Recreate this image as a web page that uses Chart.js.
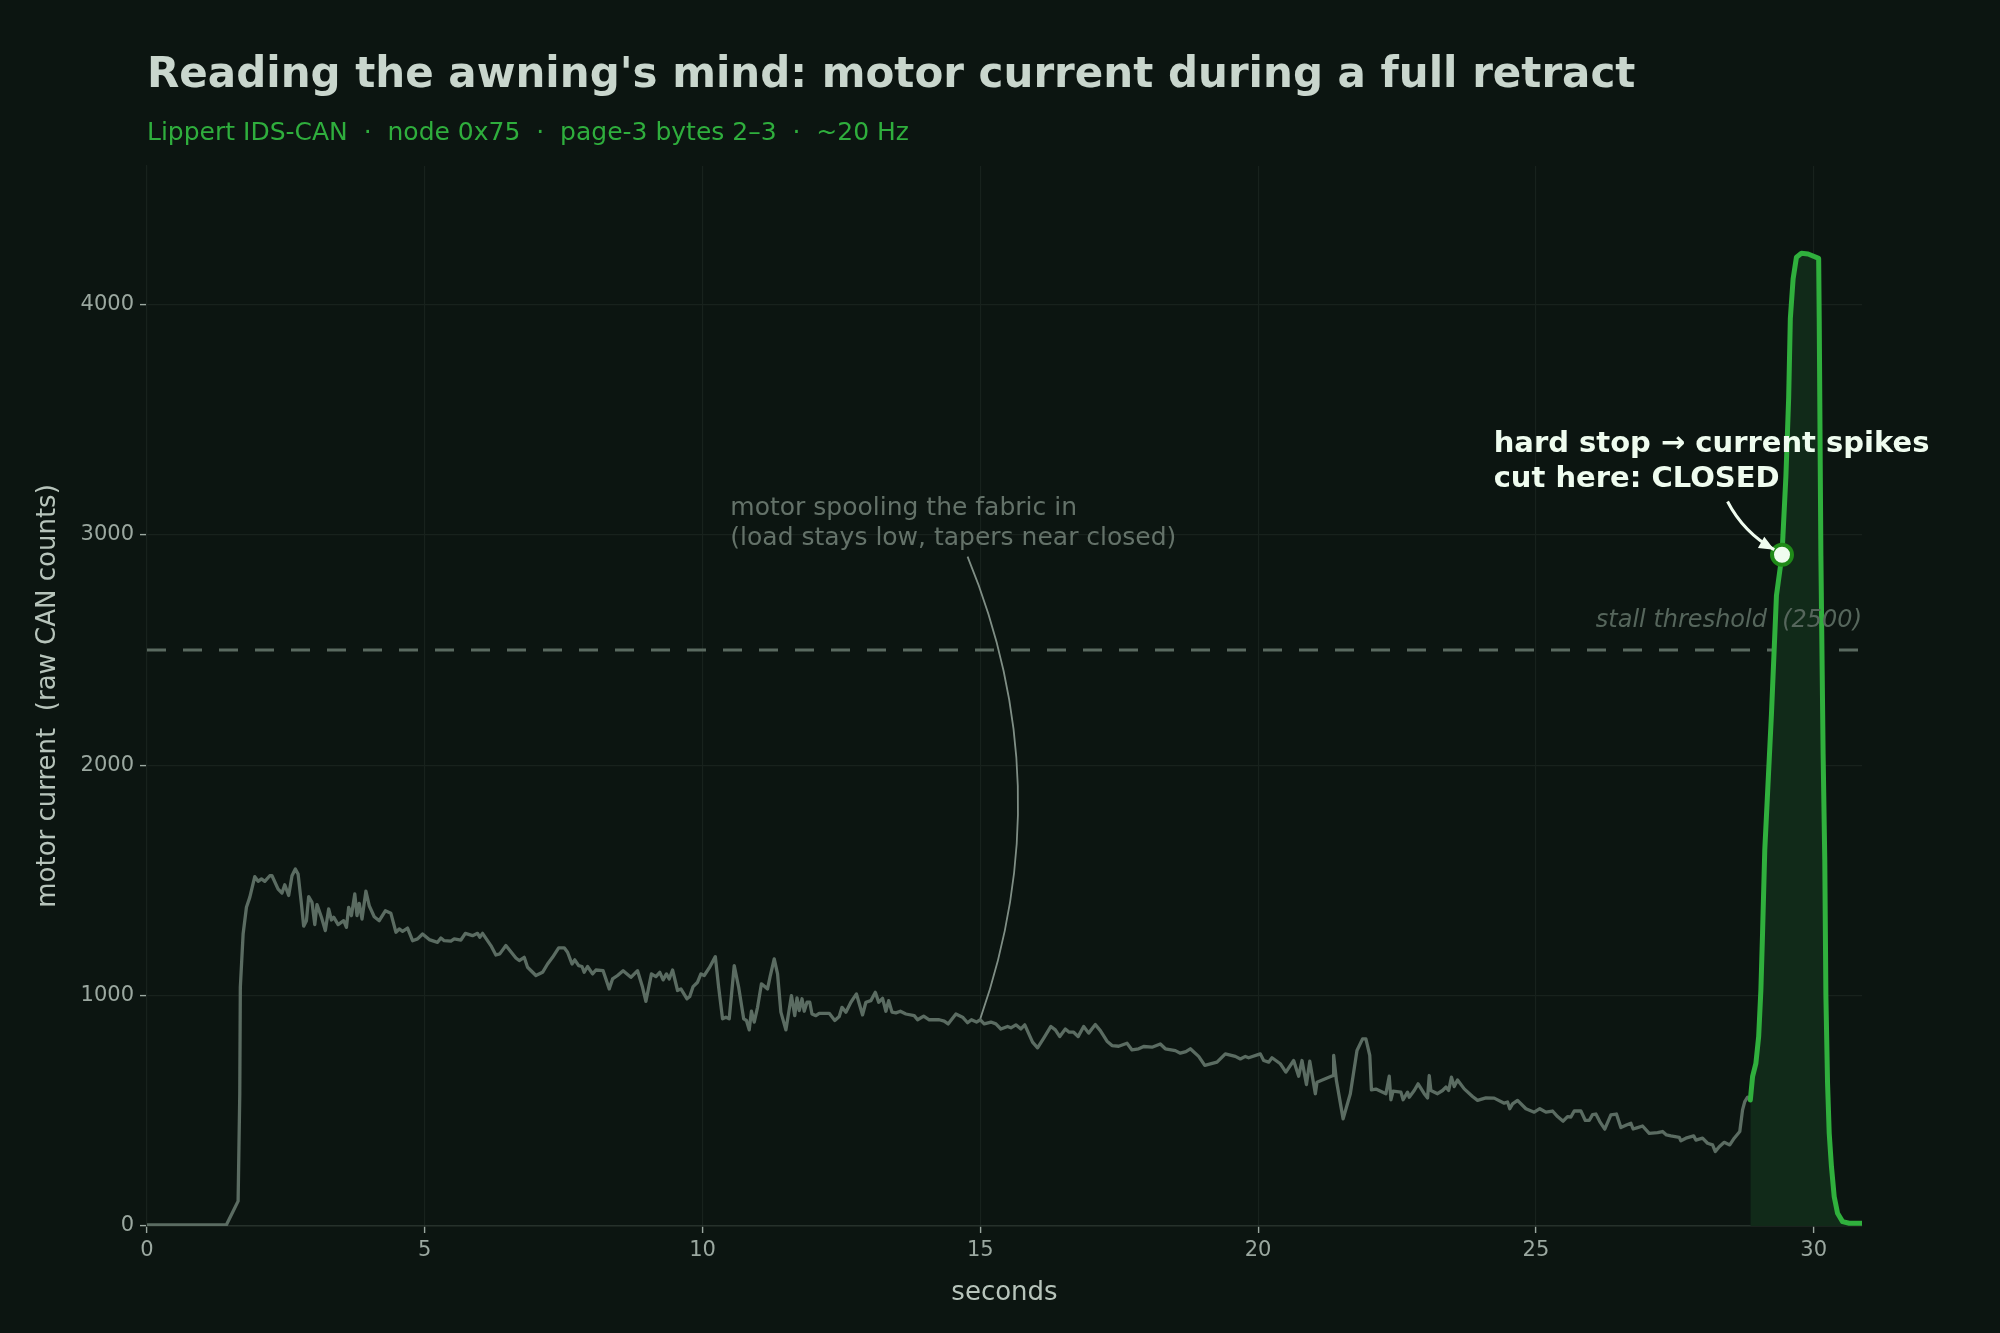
<!DOCTYPE html>
<html>
<head>
<meta charset="utf-8">
<script src="https://cdn.jsdelivr.net/npm/chart.js@4.4.1/dist/chart.umd.min.js"></script>
<style>
  html, body { margin: 0; padding: 0; background: #0c1511; }
  #wrap { width: 2000px; height: 1333px; }
</style>
</head>
<body>
<div id="wrap"><canvas id="retractChart" width="2000" height="1333"></canvas></div>
<script>
// --- datos ---
const titleText = "Reading the awning's mind: motor current during a full retract";
const subtitleText = 'Lippert IDS-CAN  \u00b7  node 0x75  \u00b7  page-3 bytes 2\u20133  \u00b7  ~20 Hz';

const xTicks = [0, 5, 10, 15, 20, 25, 30];
const yTicks = [0, 1000, 2000, 3000, 4000];

// motor enrollando la lona (gris)
const grayT = [0, 1.28, 1.43, 1.64, 1.67, 1.68, 1.73, 1.79, 1.85, 1.94, 2.00, 2.06, 2.12, 2.21, 2.25, 2.36, 2.43, 2.48, 2.55, 2.61,
  2.67, 2.72, 2.78, 2.82, 2.87, 2.91, 2.97, 3.02, 3.06, 3.14, 3.21, 3.27, 3.32, 3.36, 3.44, 3.54, 3.59, 3.63, 3.68, 3.74,
  3.78, 3.82, 3.87, 3.94, 4.00, 4.09, 4.18, 4.29, 4.39, 4.48, 4.54, 4.60, 4.69, 4.78, 4.87, 4.96, 5.08, 5.23, 5.29, 5.35,
  5.47, 5.53, 5.65, 5.73, 5.86, 5.95, 5.99, 6.04, 6.19, 6.28, 6.35, 6.46, 6.64, 6.70, 6.79, 6.85, 7.00, 7.12, 7.21, 7.30,
  7.41, 7.51, 7.57, 7.65, 7.70, 7.77, 7.83, 7.87, 7.93, 8.02, 8.08, 8.21, 8.32, 8.38, 8.47, 8.57, 8.71, 8.83, 8.92, 8.98,
  9.08, 9.16, 9.23, 9.29, 9.35, 9.40, 9.46, 9.55, 9.61, 9.72, 9.77, 9.83, 9.91, 9.97, 10.03, 10.12, 10.23, 10.29, 10.36, 10.42,
  10.48, 10.57, 10.65, 10.74, 10.79, 10.84, 10.88, 10.93, 10.99, 11.06, 11.17, 11.22, 11.29, 11.35, 11.41, 11.50, 11.60, 11.66, 11.70, 11.74,
  11.79, 11.83, 11.88, 11.93, 11.97, 12.04, 12.10, 12.28, 12.38, 12.46, 12.51, 12.58, 12.67, 12.77, 12.88, 12.94, 13.03, 13.11, 13.17, 13.24,
  13.30, 13.35, 13.41, 13.48, 13.56, 13.66, 13.81, 13.87, 13.98, 14.08, 14.26, 14.35, 14.42, 14.56, 14.68, 14.77, 14.84, 14.93, 15.00, 15.07,
  15.19, 15.28, 15.37, 15.49, 15.55, 15.64, 15.73, 15.80, 15.94, 16.03, 16.15, 16.27, 16.35, 16.43, 16.53, 16.60, 16.68, 16.76, 16.86, 16.95,
  17.07, 17.16, 17.28, 17.37, 17.49, 17.64, 17.73, 17.85, 17.94, 18.09, 18.24, 18.33, 18.51, 18.60, 18.70, 18.78, 18.93, 19.04, 19.26, 19.41,
  19.59, 19.68, 19.77, 19.83, 20.04, 20.10, 20.19, 20.25, 20.40, 20.50, 20.64, 20.73, 20.79, 20.87, 20.93, 21.03, 21.06, 21.35, 21.36, 21.41,
  21.53, 21.66, 21.78, 21.88, 21.94, 22.01, 22.04, 22.12, 22.30, 22.36, 22.39, 22.43, 22.57, 22.61, 22.69, 22.72, 22.81, 22.88, 22.99, 23.05,
  23.08, 23.11, 23.23, 23.32, 23.38, 23.43, 23.48, 23.53, 23.59, 23.71, 23.86, 23.95, 24.10, 24.25, 24.43, 24.49, 24.53, 24.58, 24.67, 24.82,
  24.97, 25.07, 25.18, 25.30, 25.39, 25.49, 25.57, 25.63, 25.69, 25.81, 25.89, 25.96, 26.02, 26.08, 26.15, 26.24, 26.35, 26.45, 26.53, 26.63,
  26.71, 26.75, 26.83, 26.92, 27.04, 27.19, 27.28, 27.35, 27.43, 27.58, 27.61, 27.70, 27.84, 27.88, 28.00, 28.09, 28.18, 28.23, 28.30, 28.39,
  28.49, 28.57, 28.67, 28.72, 28.76, 28.81, 28.86];
const grayV = [5, 5, 5, 108, 574, 1036, 1267, 1383, 1426, 1516, 1496, 1506, 1496, 1520, 1520, 1462, 1445, 1481, 1434, 1520,
  1549, 1527, 1397, 1301, 1325, 1429, 1405, 1308, 1395, 1340, 1282, 1376, 1328, 1340, 1308, 1325, 1296, 1383, 1347, 1441,
  1347, 1400, 1332, 1453, 1390, 1342, 1325, 1368, 1357, 1275, 1289, 1279, 1293, 1238, 1246, 1267, 1243, 1231, 1250, 1238,
  1236, 1246, 1241, 1270, 1260, 1270, 1253, 1270, 1217, 1176, 1181, 1217, 1163, 1152, 1166, 1123, 1087, 1101, 1137, 1166,
  1207, 1207, 1188, 1137, 1155, 1130, 1126, 1101, 1126, 1094, 1111, 1108, 1029, 1072, 1087, 1108, 1079, 1108, 1036, 975,
  1094, 1082, 1101, 1068, 1094, 1072, 1111, 1022, 1029, 986, 996, 1039, 1058, 1094, 1087, 1120, 1169, 1036, 899, 906,
  899, 1130, 1036, 899, 892, 851, 932, 885, 949, 1051, 1029, 1087, 1159, 1094, 928, 851, 1000, 913, 990, 935,
  986, 932, 971, 971, 920, 913, 923, 923, 892, 909, 949, 928, 971, 1007, 916, 971, 978, 1014, 971, 988,
  932, 978, 928, 925, 932, 920, 913, 895, 911, 895, 895, 889, 877, 920, 906, 882, 895, 885, 895, 877,
  885, 877, 855, 866, 860, 873, 855, 873, 798, 773, 819, 866, 851, 822, 855, 841, 841, 822, 866, 837,
  874, 848, 802, 783, 780, 793, 764, 769, 779, 776, 790, 769, 761, 750, 757, 769, 736, 697, 711, 747,
  736, 725, 736, 730, 747, 718, 711, 730, 704, 668, 718, 650, 718, 614, 715, 574, 624, 653, 740, 631,
  465, 574, 762, 812, 812, 740, 591, 594, 574, 650, 548, 585, 581, 548, 581, 559, 588, 617, 574, 556,
  653, 588, 574, 588, 603, 588, 646, 605, 634, 595, 562, 545, 556, 555, 533, 538, 509, 530, 545, 509,
  494, 509, 494, 499, 475, 455, 475, 473, 499, 499, 458, 458, 483, 486, 453, 420, 482, 486, 427, 438,
  446, 421, 427, 434, 402, 405, 410, 395, 391, 385, 370, 381, 391, 373, 381, 359, 352, 323, 344, 363,
  352, 381, 410, 504, 540, 559, 547];

// tope mecánico: pico de corriente (verde)
const greenT = [28.86, 28.90, 28.96, 29.01, 29.05, 29.08, 29.12, 29.24, 29.33, 29.43, 29.50, 29.55, 29.58, 29.63, 29.69, 29.78,
  29.90, 30.09, 30.10, 30.13, 30.17, 30.20, 30.22, 30.25, 30.28, 30.32, 30.37, 30.43, 30.52, 30.64, 30.87];
const greenV = [547, 648, 706, 822, 1025, 1271, 1632, 2221, 2736, 2913, 3252, 3594, 3938, 4110, 4204, 4221,
  4218, 4199, 3938, 2909, 2049, 1589, 1000, 619, 402, 258, 127, 55, 19, 12, 12];

const stallThreshold = 2500;
const cutT = 29.43;
const cutV = 2913;

const xMax = 30.87;
const yMax = 4600;

const FONT = "'DejaVu Sans', sans-serif";

function toPoints(ts, vs) {
    return ts.map((t, i) => ({ x: t, y: vs[i] }));
}

// flecha curva tipo arc3 de matplotlib
function curvedArrow(ctx, x0, y0, x1, y1, rad, head) {
    const mx = (x0 + x1) / 2, my = (y0 + y1) / 2;
    const cx = mx - rad * (y1 - y0);
    const cy = my + rad * (x1 - x0);
    ctx.beginPath();
    ctx.moveTo(x0, y0);
    ctx.quadraticCurveTo(cx, cy, x1, y1);
    ctx.stroke();
    if (head) {
        const a = Math.atan2(y1 - cy, x1 - cx);
        const len = 15, w = 6.5;
        ctx.beginPath();
        ctx.moveTo(x1, y1);
        ctx.lineTo(x1 - len * Math.cos(a) + w * Math.sin(a), y1 - len * Math.sin(a) - w * Math.cos(a));
        ctx.lineTo(x1 - len * Math.cos(a) - w * Math.sin(a), y1 - len * Math.sin(a) + w * Math.cos(a));
        ctx.closePath();
        ctx.fill();
    }
}

const annotationPlugin = {
    id: 'annotations',
    beforeDraw(chart) {
        const ctx = chart.ctx;
        ctx.save();
        ctx.fillStyle = '#0c1511';
        ctx.fillRect(0, 0, chart.width, chart.height);
        ctx.restore();
    },
    afterDatasetsDraw(chart) {
        const { ctx, chartArea, scales: { x, y } } = chart;
        ctx.save();

        // encabezado
        ctx.textAlign = 'left';
        ctx.textBaseline = 'alphabetic';
        ctx.fillStyle = '#c9d6cd';
        ctx.font = 'bold 42px ' + FONT;
        ctx.fillText(titleText, chartArea.left, 87);
        ctx.fillStyle = '#2fae3d';
        ctx.font = '25px ' + FONT;
        ctx.fillText(subtitleText, chartArea.left, 140);

        // umbral de bloqueo
        ctx.textAlign = 'right';
        ctx.fillStyle = '#56665c';
        ctx.font = 'italic 24px ' + FONT;
        ctx.fillText('stall threshold  (2500)', x.getPixelForValue(xMax), y.getPixelForValue(stallThreshold) - 23);

        // nota del enrollado
        ctx.textAlign = 'left';
        ctx.textBaseline = 'middle';
        ctx.fillStyle = '#647269';
        ctx.font = '25px ' + FONT;
        const sx = x.getPixelForValue(10.5);
        const sy = y.getPixelForValue(2985);
        ctx.fillText('motor spooling the fabric in', sx, sy - 30);
        ctx.fillText('(load stays low, tapers near closed)', sx, sy);
        ctx.strokeStyle = '#7f8e85';
        ctx.lineWidth = 1.8;
        curvedArrow(ctx, x.getPixelForValue(14.77), y.getPixelForValue(2905),
            x.getPixelForValue(15.0), y.getPixelForValue(900), -0.19, false);

        // nota del tope
        ctx.fillStyle = '#effcef';
        ctx.font = 'bold 29px ' + FONT;
        const hx = x.getPixelForValue(24.24);
        const hy = y.getPixelForValue(3238);
        ctx.fillText('hard stop \u2192 current spikes', hx, hy - 35);
        ctx.fillText('cut here: CLOSED', hx, hy);
        ctx.strokeStyle = '#effcef';
        ctx.lineWidth = 3;
        curvedArrow(ctx, x.getPixelForValue(28.45), y.getPixelForValue(3144),
            x.getPixelForValue(29.29), y.getPixelForValue(2935), 0.15, true);

        ctx.restore();
    }
};

const datasets = [
    {
        label: 'cut',
        data: [{ x: cutT, y: cutV }],
        showLine: false,
        pointRadius: 10,
        pointBackgroundColor: '#effcef',
        pointBorderColor: '#1f8a18',
        pointBorderWidth: 4
    },
    {
        label: 'hard stop',
        data: toPoints(greenT, greenV),
        borderColor: '#30b03d',
        borderWidth: 5,
        backgroundColor: '#112a19',
        fill: 'origin',
        pointRadius: 0,
        borderJoinStyle: 'round',
        borderCapStyle: 'round'
    },
    {
        label: 'spooling',
        data: toPoints(grayT, grayV),
        borderColor: '#5b6c62',
        borderWidth: 3.3,
        pointRadius: 0,
        borderJoinStyle: 'round',
        fill: false
    },
    {
        label: 'stall',
        data: [{ x: 0, y: stallThreshold }, { x: xMax, y: stallThreshold }],
        borderColor: '#5a6a60',
        borderWidth: 3,
        borderDash: [19, 17],
        pointRadius: 0,
        fill: false
    }
];

const tickFont = { family: FONT, size: 21 };
const titleFont = { family: FONT, size: 26 };

const retractChart = new Chart(document.getElementById('retractChart'), {
    type: 'line',
    data: { datasets: datasets },
    options: {
        responsive: false,
        devicePixelRatio: 1,
        animation: false,
        layout: { padding: { top: 166, right: 138, left: 0, bottom: 0 } },
        plugins: {
            legend: { display: false },
            tooltip: { enabled: false },
            title: { display: false }
        },
        scales: {
            x: {
                type: 'linear',
                min: 0,
                max: xMax,
                afterFit: s => { s.height = 107; },
                afterBuildTicks: s => { s.ticks = xTicks.map(v => ({ value: v })); },
                ticks: { color: '#9ba8a0', font: tickFont, padding: 5, maxRotation: 0, callback: v => String(v) },
                grid: { color: '#18221d', lineWidth: 1.2, tickColor: '#9ba8a0', tickLength: 7, tickWidth: 1.4 },
                border: { color: '#26312b', width: 1.5 },
                title: { display: true, text: 'seconds', color: '#b7c4bb', font: titleFont, padding: { top: 0, bottom: 24 } }
            },
            y: {
                type: 'linear',
                min: 0,
                max: yMax,
                afterFit: s => { s.width = 147; },
                afterBuildTicks: s => { s.ticks = yTicks.map(v => ({ value: v })); },
                ticks: { color: '#9ba8a0', font: tickFont, padding: 6, callback: v => String(v) },
                grid: { color: '#18221d', lineWidth: 1.2, tickColor: '#9ba8a0', tickLength: 7, tickWidth: 1.4 },
                border: { color: '#18221d', width: 1.2 },
                title: { display: true, text: 'motor current  (raw CAN counts)', color: '#b7c4bb', font: titleFont, padding: { top: 33, bottom: 0 } }
            }
        }
    },
    plugins: [annotationPlugin]
});
</script>
</body>
</html>
